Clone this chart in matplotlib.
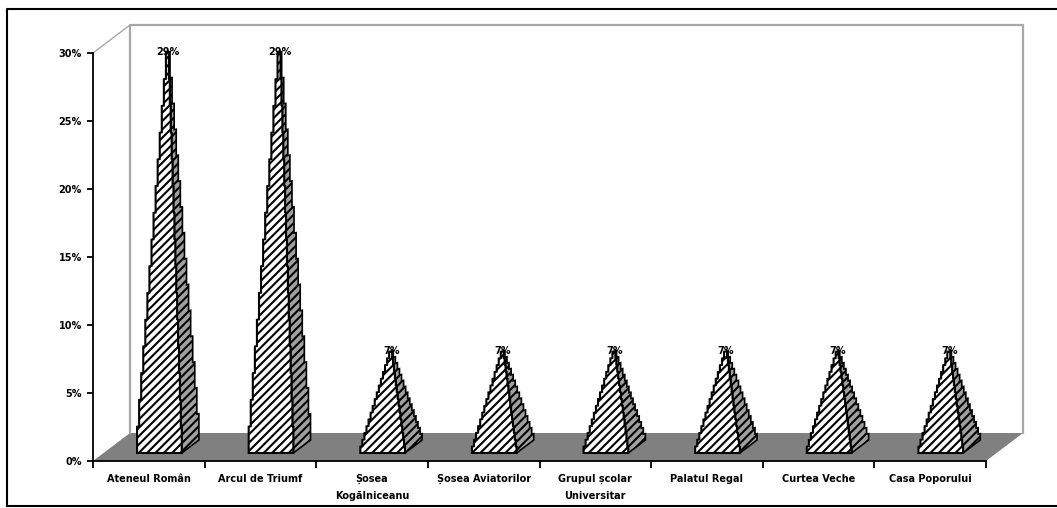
import matplotlib
matplotlib.use("Agg")
from matplotlib import pyplot as plt
from matplotlib.lines import Line2D
from matplotlib.patches import Polygon

categories = [
    "Ateneul Român",
    "Arcul de Triumf",
    "Șosea\nKogălniceanu",
    "Șosea Aviatorilor",
    "Grupul școlar\nUniversitar",
    "Palatul Regal",
    "Curtea Veche",
    "Casa Poporului",
]
values = [29, 29, 7, 7, 7, 7, 7, 7]
y_ticks = [0, 5, 10, 15, 20, 25, 30]

W, H = 1057, 508
Y_MAX = 30

# oblique projection of the chart box, depth runs 0 (front) to 1 (back wall)
DEPTH_DX = 37 / (893 / 8)
DEPTH_DY = 28 / (408 / Y_MAX)

# pyramid footprint
HALF_WIDTH = 0.2
FRONT, BACK = 0.286, 0.75
N_TIERS = 15


def project(x, y, depth):
    return x + depth * DEPTH_DX, y + depth * DEPTH_DY


def tier_corners(center, t):
    # corners of the footprint scaled towards the apex, t=0 at base, t=1 at apex
    mid = (FRONT + BACK) / 2
    half = HALF_WIDTH * (1 - t)
    front = mid + (FRONT - mid) * (1 - t)
    back = mid + (BACK - mid) * (1 - t)
    return center - half, center + half, front, back


def draw_pyramid(ax, center, value):
    left_side, right_side = [], []
    back_side = []
    for k in range(N_TIERS):
        t = k / N_TIERS
        y0 = value * k / N_TIERS
        y1 = value * (k + 1) / N_TIERS
        xl, xr, front, back = tier_corners(center, t)
        left_side += [project(xl, y0, front), project(xl, y1, front)]
        right_side += [project(xr, y0, front), project(xr, y1, front)]
        back_side += [project(xr, y0, back), project(xr, y1, back)]

    top = project(center, value, (FRONT + BACK) / 2)
    side = Polygon(right_side + [top] + back_side[::-1], closed=True, facecolor="#a0a0a0",
                   edgecolor="black", hatch="////", linewidth=1.2, clip_on=False, zorder=3)
    face = Polygon(left_side + [top] + right_side[::-1], closed=True, facecolor="white",
                   edgecolor="black", hatch="////", linewidth=1.5, clip_on=False, zorder=4)
    ax.add_patch(side)
    ax.add_patch(face)
    ax.text(top[0], top[1], f"{value}%", ha="center", va="center", fontsize=7,
            fontweight="bold", zorder=6)


plt.rcParams["hatch.linewidth"] = 1.5
plt.rcParams["font.family"] = ["DejaVu Sans"]

fig = plt.figure(figsize=(W / 100, H / 100), dpi=100, facecolor="white")
ax = fig.add_axes([93 / W, 1 - 461 / H, 893 / W, 408 / H])
ax.set_xlim(0, len(categories))
ax.set_ylim(0, Y_MAX)
ax.patch.set_visible(False)

# floor and back wall
n = len(categories)
floor = Polygon([project(0, 0, 0), project(n, 0, 0), project(n, 0, 1), project(0, 0, 1)],
                closed=True, facecolor="#808080", edgecolor="none", clip_on=False, zorder=1)
ax.add_patch(floor)
wall = [project(0, 0, 1), project(0, Y_MAX, 1), project(n, Y_MAX, 1), project(n, 0, 1)]
ax.plot(*zip(*wall), color="#a8a8a8", linewidth=1.6, clip_on=False, zorder=1)
ax.plot(*zip(project(0, Y_MAX, 0), project(0, Y_MAX, 1)), color="#a8a8a8", linewidth=1.0,
        clip_on=False, zorder=1)

for i, value in enumerate(values):
    draw_pyramid(ax, i + 0.5, value)

for name in ("top", "right"):
    ax.spines[name].set_visible(False)
for name in ("left", "bottom"):
    ax.spines[name].set_linewidth(1.3)
    ax.spines[name].set_zorder(5)

ax.set_yticks(y_ticks)
ax.set_yticklabels([f"{v}%" for v in y_ticks], fontsize=7, fontweight="bold")
ax.tick_params(axis="y", length=4, width=1.3, pad=4)

ax.set_xticks(range(n + 1))
ax.set_xticklabels([])
ax.tick_params(axis="x", which="major", length=5, width=1.3)
ax.set_xticks([i + 0.5 for i in range(n)], minor=True)
ax.set_xticklabels(categories, minor=True, fontsize=7, fontweight="bold", linespacing=1.9)
ax.tick_params(axis="x", which="minor", length=0, pad=9)

# outer frame, open on the right
frame = [(7, 505.5), (7, 9), (W, 9)]
fig.add_artist(Line2D([p[0] / W for p in frame], [1 - p[1] / H for p in frame],
                      color="black", linewidth=1.5))
fig.add_artist(Line2D([7 / W, 1], [1 - 505.5 / H, 1 - 505.5 / H], color="black", linewidth=1.5))

fig.savefig("out.png", dpi=100)
plt.close(fig)
